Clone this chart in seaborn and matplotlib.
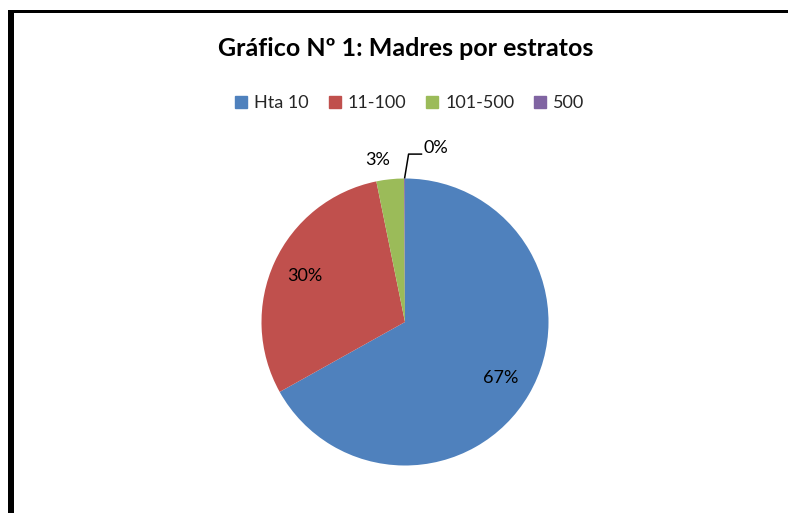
import numpy as np
import matplotlib
matplotlib.use("Agg")
import matplotlib.pyplot as plt
import matplotlib.patches as mpatches
import seaborn as sns

# data
categories = ["Hta 10", "11-100", "101-500", "500"]
shares = [66.9, 29.9, 3.1, 0.1]
colors_hex = ["#4F81BD", "#C0504D", "#9BBB59", "#8064A2"]
title = "Gráfico Nº 1: Madres por estratos"

sns.set_theme(style="white")
plt.rcParams['font.family'] = ['Lato', 'DejaVu Sans']

W, H = 788, 513
fig = plt.figure(figsize=(W / 100, H / 100), dpi=100)
fig.patch.set_facecolor("white")

# pie axes: centre (405, 322) px, radius ~143.5 px
cx, cy, r = 405, 322, 143.5
ax = fig.add_axes([(cx - r) / W, (H - cy - r) / H, 2 * r / W, 2 * r / H])
palette = sns.color_palette(colors_hex)

wedges, texts, autotexts = ax.pie(
    shares, colors=palette, startangle=90, counterclock=False,
    autopct=lambda p: f"{p:.0f}%", pctdistance=0.77,
    wedgeprops=dict(linewidth=0), textprops=dict(fontsize=13, color="black"),
    frame=False)
ax.set_xlim(-1, 1)
ax.set_ylim(-1, 1)
ax.set_aspect("equal")
ax.axis("off")

# small slices: labels outside, 0% with a leader line
autotexts[2].set_position((-0.19, 1.13))
autotexts[3].set_position((0.13, 1.21))
autotexts[3].set_ha("left")
th = np.deg2rad((wedges[3].theta1 + wedges[3].theta2) / 2)
x0, y0 = np.cos(th), np.sin(th)
ax.plot([x0, 0.025, 0.12], [y0, 1.17, 1.17], color="black", lw=1.1,
        clip_on=False, solid_capstyle="butt")

fig.text(406 / W, 1 - 48 / H, title, ha="center", va="center",
         fontsize=18, fontweight="bold", color="black")

handles = [mpatches.Patch(color=c, label=l) for c, l in zip(palette, categories)]
fig.legend(handles=handles, loc="center", bbox_to_anchor=(410 / W, 1 - 103 / H),
           ncol=4, frameon=False, fontsize=13, handlelength=0.65,
           handleheight=0.65, handletextpad=0.4, columnspacing=1.1)

# partial black frame (top and left edges visible)
fig.add_artist(mpatches.Rectangle((8 / W, 0), 6 / W, 1 - 10 / H,
                                  transform=fig.transFigure, color="black", lw=0))
fig.add_artist(mpatches.Rectangle((8 / W, 1 - 13 / H), 1, 3 / H,
                                  transform=fig.transFigure, color="black", lw=0))

fig.savefig("out.png", dpi=100)
